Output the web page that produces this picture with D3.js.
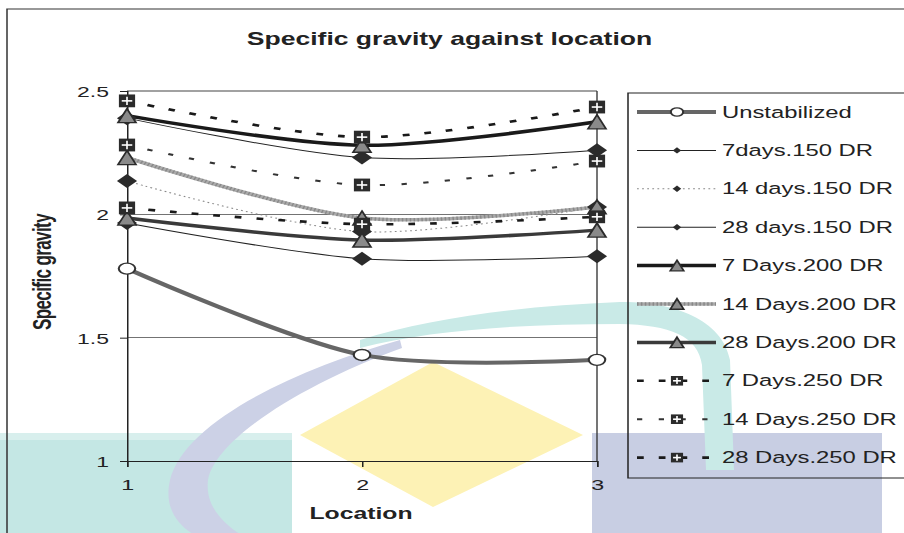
<!DOCTYPE html>
<html>
<head>
<meta charset="utf-8">
<script src="https://cdn.jsdelivr.net/npm/d3@7"></script>
<style>
  html, body { margin: 0; padding: 0; background: #fff; overflow: hidden; }
  text { font-family: "Liberation Sans", Arial, sans-serif; fill: #222; }
</style>
</head>
<body>
<svg id="chart" width="904" height="533"></svg>
<script>
// Specific gravity readings at three locations for each curing / compaction case
const locations = [1, 2, 3];
const seriesNames = [
  "Unstabilized", "7days.150 DR", "14 days.150 DR", "28 days.150 DR",
  "7 Days.200 DR", "14 Days.200 DR", "28 Days.200 DR",
  "7 Days.250 DR", "14 Days.250 DR", "28 Days.250 DR"
];
const unstabilized = [1.78, 1.43, 1.41];
const d7_150  = [2.39, 2.23, 2.26];
const d14_150 = [2.135, 1.93, 2.03];
const d28_150 = [1.965, 1.82, 1.83];
const d7_200  = [2.40, 2.28, 2.375];
const d14_200 = [2.23, 1.985, 2.03];
const d28_200 = [1.985, 1.896, 1.936];
const d7_250  = [2.46, 2.313, 2.435];
const d14_250 = [2.281, 2.119, 2.216];
const d28_250 = [2.026, 1.96, 1.99];
const yTicks = [1, 1.5, 2, 2.5];
const xTicks = [1, 2, 3];

const seriesValues = [unstabilized, d7_150, d14_150, d28_150, d7_200, d14_200, d28_200, d7_250, d14_250, d28_250];

// Drawing styles per series
const styles = [
  { stroke: "#666", width: 4, dash: null, marker: "circle" },
  { stroke: "#222", width: 1, dash: null, marker: "diamond" },
  { stroke: "#888", width: 1, dash: "1.2,2.2", marker: "diamond" },
  { stroke: "#222", width: 1, dash: null, marker: "diamond" },
  { stroke: "#1a1a1a", width: 3.5, dash: null, marker: "triangle" },
  { stroke: "#aaa", width: 3.5, dash: null, marker: "triangle", texture: true },
  { stroke: "#3a3a3a", width: 3.5, dash: null, marker: "triangle" },
  { stroke: "#1a1a1a", width: 2.6, dash: "4.5,10", marker: "plus" },
  { stroke: "#333", width: 2, dash: "3.5,11", marker: "plus" },
  { stroke: "#1a1a1a", width: 2.6, dash: "4.5,10", marker: "plus" }
];

const svg = d3.select("#chart");
const SX = 1.5; // the whole drawing is widened horizontally

// ---- background emblem ----
const bg = svg.append("g");
bg.append("rect").attr("x", 0).attr("y", 433).attr("width", 292).attr("height", 100).attr("fill", "#c4e7e4");
bg.append("rect").attr("x", 0).attr("y", 433).attr("width", 292).attr("height", 7).attr("fill", "#d8efed");
bg.append("rect").attr("x", 592).attr("y", 433).attr("width", 290).attr("height", 100).attr("fill", "#c8cee3");
bg.append("path").attr("d", "M433,362 L583,435 L433,507 L300,435 Z").attr("fill", "#fdf2b5");
bg.append("path")
  .attr("d", "M360,340 C430,318 520,306 620,302 C670,301 722,318 730,360 L734,470 L706,470 L702,365 C698,336 670,325 620,324 C520,324 430,330 360,348 Z")
  .attr("fill", "#c9eae7");
bg.append("path")
  .attr("d", "M400,340 C300,368 185,420 170,480 C163,510 180,530 205,540 L250,540 C222,525 205,505 208,480 C215,440 300,385 402,348 Z")
  .attr("fill", "#ccd1e6");

// ---- chart, drawn in narrow units then widened ----
const g = svg.append("g").attr("transform", `scale(${SX},1)`);

const x = d3.scaleLinear().domain([1, 3]).range([127 / SX, 597 / SX]);
const y = d3.scaleLinear().domain([1, 2.5]).range([461, 91]);

// outer chart border
g.append("rect").attr("x", 7 / SX).attr("y", 9).attr("width", 1000).attr("height", 600)
  .attr("fill", "none").attr("stroke", "#333").attr("stroke-width", 1);

// title
g.append("text").attr("x", 449.5 / SX).attr("y", 45).attr("text-anchor", "middle")
  .attr("font-weight", "bold").attr("font-size", 17.7).text("Specific gravity against location");

// gridlines and plot frame
g.append("g").selectAll("line").data(yTicks.filter(d => d > 1)).join("line")
  .attr("x1", x(1)).attr("x2", x(3)).attr("y1", d => y(d)).attr("y2", d => y(d))
  .attr("stroke", "#444").attr("stroke-width", 0.9);
g.append("line").attr("x1", x(3)).attr("x2", x(3)).attr("y1", y(2.5)).attr("y2", y(1))
  .attr("stroke", "#333").attr("stroke-width", 0.9);

// axes
const yAxis = d3.axisLeft(y).tickValues(yTicks).tickSize(7 / SX).tickPadding(0).tickFormat(d3.format("~g"));
const yG = g.append("g").attr("transform", `translate(${x(1)},0)`).call(yAxis);
yG.select(".domain").attr("stroke", "#222");
yG.selectAll(".tick line").attr("stroke", "#222");
yG.selectAll(".tick text").attr("x", -18 / SX).attr("dy", "0.36em").attr("font-size", 15.3)
  .attr("fill", "#222").attr("font-family", "Liberation Sans, Arial, sans-serif");

const xAxis = d3.axisBottom(x).tickValues(xTicks).tickSize(6).tickPadding(0).tickFormat(d3.format("d"));
const xG = g.append("g").attr("transform", `translate(0,${y(1)})`).call(xAxis);
xG.select(".domain").attr("stroke", "#222");
xG.selectAll(".tick line").attr("stroke", "#222");
xG.selectAll(".tick text").attr("y", 29).attr("dy", 0).attr("font-size", 15.5)
  .attr("fill", "#222").attr("font-family", "Liberation Sans, Arial, sans-serif");

// axis titles
g.append("text").attr("x", 361 / SX).attr("y", 519).attr("text-anchor", "middle")
  .attr("font-weight", "bold").attr("font-size", 16.5).attr("fill", "#333").text("Location");
g.append("text").attr("transform", `translate(${51 / SX},272) rotate(-90)`).attr("text-anchor", "middle")
  .attr("font-weight", "bold").attr("font-size", 17).attr("letter-spacing", -0.6).attr("fill", "#333")
  .text("Specific gravity");

// marker shapes (narrow units)
function drawMarker(sel, type, cx, cy, small) {
  const k = small ? 0.75 : 1;
  if (type === "circle") {
    sel.append("circle").attr("cx", cx).attr("cy", cy).attr("r", 5.5 * k)
      .attr("fill", "#fff").attr("stroke", "#333").attr("stroke-width", 1.4);
  } else if (type === "diamond") {
    const w = small ? 2.8 : 6.7, h = small ? 3.2 : 7;
    sel.append("path").attr("d", `M${cx},${cy - h} L${cx + w},${cy} L${cx},${cy + h} L${cx - w},${cy} Z`)
      .attr("fill", "#2b2b2b");
  } else if (type === "triangle") {
    const w = 6 * k, h = 7 * k;
    sel.append("path").attr("d", `M${cx},${cy - h} L${cx + w},${cy + h} L${cx - w},${cy + h} Z`)
      .attr("fill", "#8a8a8a").attr("stroke", "#2b2b2b").attr("stroke-width", 1.3);
  } else if (type === "plus") {
    const w = 5.4 * k, h = 6.4 * k;
    sel.append("rect").attr("x", cx - w).attr("y", cy - h).attr("width", 2 * w).attr("height", 2 * h)
      .attr("fill", "#2b2b2b");
    sel.append("line").attr("x1", cx - w * 0.65).attr("x2", cx + w * 0.65).attr("y1", cy).attr("y2", cy)
      .attr("stroke", "#fff").attr("stroke-width", 1.6);
    sel.append("line").attr("x1", cx).attr("x2", cx).attr("y1", cy - h * 0.65).attr("y2", cy + h * 0.65)
      .attr("stroke", "#fff").attr("stroke-width", 1.1);
  }
}

// series lines (smoothed)
const line = d3.line().x((d, i) => x(locations[i])).y(d => y(d)).curve(d3.curveCardinal.tension(0.1));
const linesG = g.append("g").attr("fill", "none");
seriesValues.forEach((vals, s) => {
  const st = styles[s];
  linesG.append("path").attr("d", line(vals)).attr("stroke", st.stroke)
    .attr("stroke-width", st.width).attr("stroke-dasharray", st.dash);
  if (st.texture) {
    linesG.append("path").attr("d", line(vals)).attr("stroke", "#7a7a7a")
      .attr("stroke-width", st.width).attr("stroke-dasharray", "1,1.6").attr("opacity", 0.7);
  }
});

// markers
const markG = g.append("g");
seriesValues.forEach((vals, s) => {
  vals.forEach((v, i) => drawMarker(markG, styles[s].marker, x(locations[i]), y(v), false));
});

// legend
const legX = 628 / SX, legY = 93, rowH = 38.4;
const leg = g.append("g");
leg.append("rect").attr("x", legX).attr("y", legY).attr("width", 400).attr("height", 385)
  .attr("fill", "none").attr("stroke", "#222").attr("stroke-width", 1);
seriesNames.forEach((name, s) => {
  const st = styles[s];
  const cy = 112 + s * rowH;
  leg.append("line").attr("x1", 637 / SX).attr("x2", 716 / SX).attr("y1", cy).attr("y2", cy)
    .attr("stroke", st.stroke).attr("stroke-width", st.width).attr("stroke-dasharray", st.dash);
  if (st.texture) {
    leg.append("line").attr("x1", 637 / SX).attr("x2", 716 / SX).attr("y1", cy).attr("y2", cy)
      .attr("stroke", "#7a7a7a").attr("stroke-width", st.width).attr("stroke-dasharray", "1,1.6").attr("opacity", 0.7);
  }
  drawMarker(leg, st.marker, 677 / SX, cy, true);
  leg.append("text").attr("x", 722 / SX).attr("y", cy + 5.6).attr("font-size", 15.9).text(name);
});
</script>
</body>
</html>
